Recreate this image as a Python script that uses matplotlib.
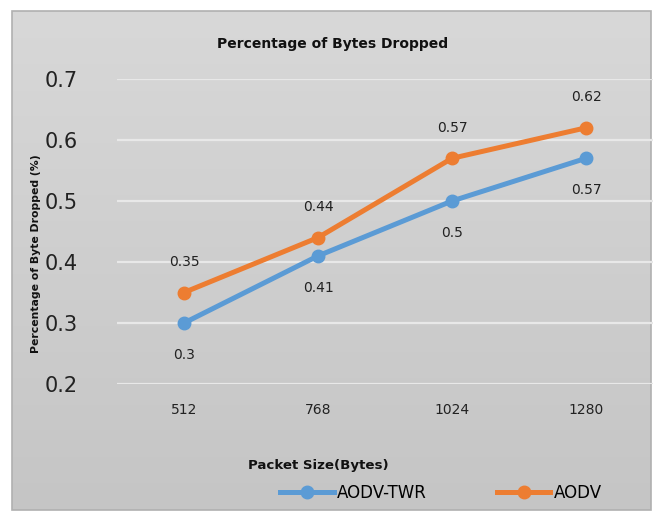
import numpy as np
import matplotlib.pyplot as plt
from matplotlib.patches import Rectangle
from matplotlib.lines import Line2D
from matplotlib.colors import LinearSegmentedColormap

# Datos
tamanos = ["512", "768", "1024", "1280"]
aodv_twr = [0.3, 0.41, 0.5, 0.57]
aodv = [0.35, 0.44, 0.57, 0.62]

AZUL = "#5b9bd5"
NARANJA = "#ed7d31"

fig = plt.figure(figsize=(6.59, 5.17), dpi=100)
fig.patch.set_facecolor("white")

# Fondo gris con degradado
fondo = fig.add_axes([0, 0, 1, 1], zorder=0)
fondo.set_xlim(0, 659)
fondo.set_ylim(517, 0)
fondo.axis("off")
grad = np.linspace(0, 1, 256).reshape(-1, 1)
cmap_gris = LinearSegmentedColormap.from_list("g", ["#d8d8d8", "#c5c5c5"])
fondo.imshow(grad, extent=(12, 651, 510, 11), cmap=cmap_gris, aspect="auto", zorder=0)
fondo.add_patch(Rectangle((12, 11), 639, 499, fill=False, edgecolor="#b0b0b0", lw=1.2, zorder=1))

ax = fig.add_axes([117 / 659, (517 - 384) / 517, 536 / 659, 305 / 517], zorder=2)
ax.patch.set_alpha(0)
x = np.arange(len(tamanos))

ax.plot(x, aodv_twr, color=AZUL, lw=3.6, marker="o", ms=9, label="AODV-TWR", zorder=3)
ax.plot(x, aodv, color=NARANJA, lw=3.6, marker="o", ms=9, label="AODV", zorder=4)

for xi, v in zip(x, aodv_twr):
    ax.annotate(f"{v:g}", (xi, v), xytext=(0, -23), textcoords="offset points",
                ha="center", va="center", fontsize=10, color="#222222")
for xi, v in zip(x, aodv):
    ax.annotate(f"{v:g}", (xi, v), xytext=(0, 22), textcoords="offset points",
                ha="center", va="center", fontsize=10, color="#222222")

ax.set_xlim(-0.5, 3.5)
ax.set_ylim(0.2, 0.7)
ax.set_yticks([0.2, 0.3, 0.4, 0.5, 0.6, 0.7])
ax.set_yticklabels(["0.2", "0.3", "0.4", "0.5", "0.6", "0.7"], fontsize=15, color="#222222")
ax.set_xticks(x)
ax.set_xticklabels(tamanos, fontsize=10, color="#222222")
ax.tick_params(axis="both", length=0)
ax.tick_params(axis="y", pad=28)
ax.tick_params(axis="x", pad=14)
ax.grid(axis="y", color="#e8e8e8", lw=1.6, zorder=1)
for s in ax.spines.values():
    s.set_visible(False)

fig.text(333 / 659, 1 - 44 / 517, "Percentage of Bytes Dropped", ha="center", va="center",
         fontsize=10, fontweight="bold", color="#111111")
fig.text(36 / 659, 1 - 254 / 517, "Percentage of Byte Dropped (%)", ha="center", va="center",
         rotation=90, fontsize=7.8, fontweight="bold", color="#111111")
fig.text(318 / 659, 1 - 466 / 517, "Packet Size(Bytes)", ha="center", va="center",
         fontsize=9.6, fontweight="bold", color="#111111")

# Leyenda
manejadores = [Line2D([0], [0], color=AZUL, lw=3.6, marker="o", ms=9),
               Line2D([0], [0], color=NARANJA, lw=3.6, marker="o", ms=9)]
fig.legend(manejadores, ["AODV-TWR", "AODV"], loc="center", bbox_to_anchor=(441 / 659, 1 - 493 / 517),
           ncol=2, frameon=False, fontsize=12, handlelength=3.2, handletextpad=0.2, columnspacing=4.2)

fig.savefig("out.png", dpi=100)
